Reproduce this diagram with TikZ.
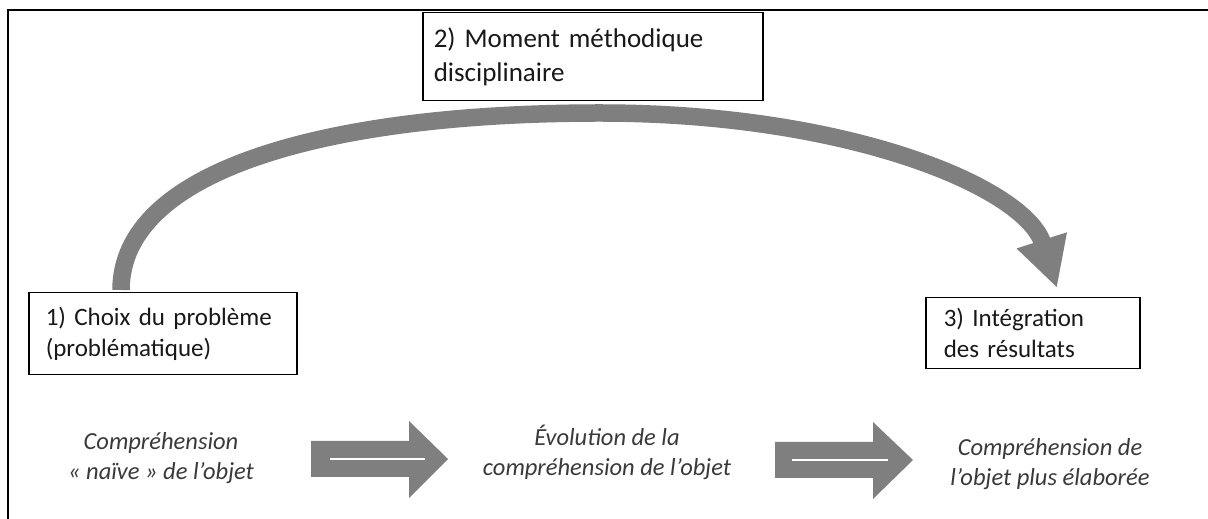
\documentclass[tikz,border=0pt]{standalone}
\usepackage{fontspec}
\setmainfont{Carlito}
\usetikzlibrary{arrows.meta}
\definecolor{arrowgray}{HTML}{7F7F7F}
\definecolor{softtext}{HTML}{3A3A3A}
\begin{document}
\begin{tikzpicture}[x=1pt,y=1pt,
  box/.style={draw=black, line width=1.5pt, fill=white, align=left, inner ysep=0pt, anchor=north west},
  boxfont/.style={font=\fontsize{25}{31}\selectfont, text=black!90},
  lowtext/.style={font=\fontsize{24.5}{30}\selectfont\itshape, text=softtext, align=center},
  bigarrow/.style={fill=arrowgray, draw=none},
  innerline/.style={draw=white, line width=2pt}]
\useasboundingbox (0,0) rectangle (1208,519);
\fill[white] (0,0) rectangle (1208,519);
% frame
\coordinate (fbl) at (8,0);
\coordinate (ftl) at (8,509);
\coordinate (ftr) at (1208,509);
\draw[line width=2pt] (fbl) -- (ftl) -- (ftr);
% boxes
\node[box, boxfont, font=\fontsize{27}{34}\selectfont, minimum width=340, minimum height=88, text width=318, inner xsep=11] (b2) at (422,507) {2) Moment méthodique\\disciplinaire};
\node[box, boxfont, minimum width=268, minimum height=82, text width=234, inner xsep=17] (b1) at (28,227) {1) Choix du problème\\(problématique)};
\node[box, boxfont, minimum width=214, minimum height=71, text width=178, inner xsep=18] (b3) at (925,222) {3) Intégration\\des résultats};
% curved arrow
\coordinate (arcstart) at (121,229);
\coordinate (arctop) at (600,406);
\coordinate (arcend) at (1057,231);
\draw[arrowgray, line width=17.5pt, -{Triangle[width=49pt,length=50pt]}]
  (arcstart) .. controls (121,350) and (330,406) .. (arctop)
  .. controls (850,406) and (1025,331) .. (arcend);
% bottom texts
\node[lowtext] (t1) at (161,61) {Compréhension\\« naïve » de l’objet};
\node[lowtext] (t2) at (607,67) {Évolution de la\\compréhension de l’objet};
\node[lowtext] (t3) at (1050,55) {Compréhension de\\l’objet plus élaborée};
% block arrows
\fill[bigarrow] (311,42) -- (409,42) -- (409,21) -- (448,60) -- (409,98) -- (409,78) -- (311,78) -- cycle;
\draw[innerline] (330,60) -- (425,60);
\fill[bigarrow] (775,41) -- (873,41) -- (873,20) -- (913,59) -- (873,97) -- (873,77) -- (775,77) -- cycle;
\draw[innerline] (792,59) -- (888,59);
\end{tikzpicture}
\end{document}
